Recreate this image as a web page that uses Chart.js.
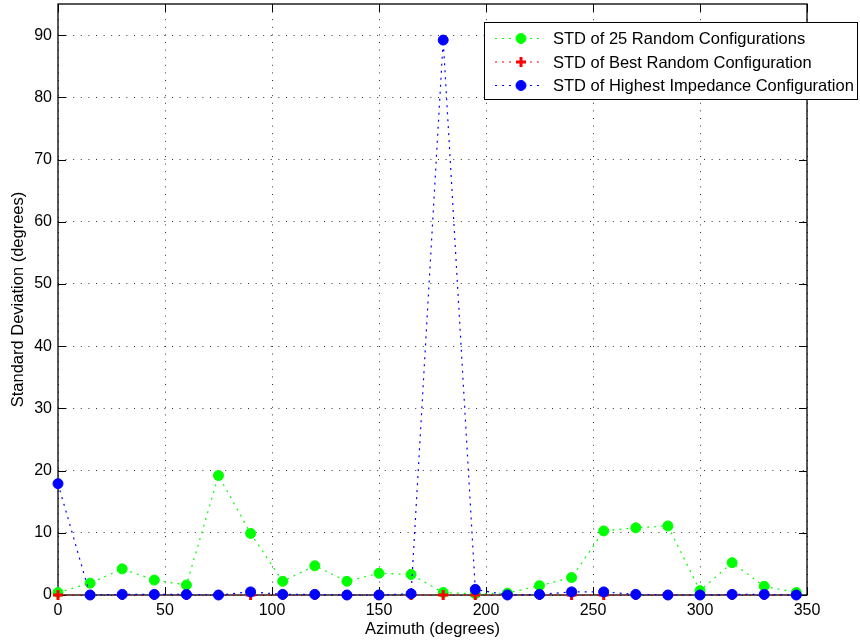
<!DOCTYPE html>
<html><head><meta charset="utf-8">
<script src="https://cdn.jsdelivr.net/npm/chart.js@4"></script>
<style>html,body{margin:0;padding:0;background:#fff;}#wrap{width:860px;height:641px;position:relative;}</style>
</head><body><div id="wrap"><canvas id="c" width="860" height="641"></canvas></div>
<script>
const azimuth = [0,15,30,45,60,75,90,105,120,135,150,165,180,195,210,225,240,255,270,285,300,315,330,345];
const stdRandom25 = [0.4,1.9,4.2,2.4,1.6,19.2,9.9,2.2,4.7,2.2,3.5,3.3,0.4,0.2,0.3,1.5,2.8,10.3,10.8,11.1,0.7,5.2,1.4,0.4];
const stdBestRandom = [0,0,0,0,0,0,0,0,0,0,0,0,0,0,0,0,0,0,0,0,0,0,0,0];
const stdHighestImpedance = [17.9,0,0.1,0.1,0.1,0,0.5,0.1,0.1,0,0,0.2,89.2,0.9,0,0.1,0.5,0.5,0.1,0,0,0.1,0.1,0];
const xTicks = [0,50,100,150,200,250,300,350];
const yTicks = [0,10,20,30,40,50,60,70,80,90];
const seriesLabels = ['STD of 25 Random Configurations','STD of Best Random Configuration','STD of Highest Impedance Configuration'];
const seriesColors = ['#00ff00','#ff0000','#0000ff'];
const seriesStyles = ['circle','cross','circle'];

const FONT = '"Liberation Sans", Arial, Helvetica, sans-serif';

function pts(vals){ return azimuth.map((a,i)=>({x:a,y:vals[i]})); }
function ds(i, vals, order){
  const isCross = seriesStyles[i]==='cross';
  return {
    label: seriesLabels[i], data: pts(vals), order: order,
    borderColor: seriesColors[i], borderWidth: 1.2, borderDash: [2,5],
    backgroundColor: seriesColors[i],
    pointStyle: seriesStyles[i], pointRadius: 5, pointHoverRadius: 5,
    pointBackgroundColor: seriesColors[i], pointBorderColor: seriesColors[i],
    pointBorderWidth: isCross ? 3 : 1,
    tension: 0, fill: false, clip: false
  };
}

const framePlugin = {
  id: 'frame',
  beforeDatasetsDraw(chart){
    const {ctx, chartArea:a, scales} = chart;
    ctx.save();
    ctx.strokeStyle = '#000'; ctx.lineWidth = 1.3; ctx.setLineDash([]);
    ctx.strokeRect(a.left, a.top, a.right-a.left, a.bottom-a.top);
    ctx.lineWidth = 1;
    const L = 8;
    ctx.beginPath();
    xTicks.forEach(v=>{ const x = Math.round(scales.x.getPixelForValue(v))+0.5;
      ctx.moveTo(x,a.bottom); ctx.lineTo(x,a.bottom-L); ctx.moveTo(x,a.top); ctx.lineTo(x,a.top+L); });
    yTicks.forEach(v=>{ const y = Math.round(scales.y.getPixelForValue(v))+0.5;
      ctx.moveTo(a.left,y); ctx.lineTo(a.left+L,y); ctx.moveTo(a.right,y); ctx.lineTo(a.right-L,y); });
    ctx.stroke();
    ctx.restore();
  }
};

const legendPlugin = {
  id: 'mlegend',
  afterDraw(chart){
    const ctx = chart.ctx;
    ctx.save();
    const bx=484.5, by=22.5, bw=373, bh=77;
    ctx.fillStyle='#fff'; ctx.fillRect(bx,by,bw,bh);
    ctx.strokeStyle='#000'; ctx.lineWidth=1; ctx.setLineDash([]); ctx.strokeRect(bx,by,bw,bh);
    const rows=[38.5,62,85.5];
    rows.forEach((y,i)=>{
      ctx.strokeStyle=seriesColors[i]; ctx.lineWidth=1.2; ctx.setLineDash([2,5]);
      ctx.beginPath(); ctx.moveTo(495,y); ctx.lineTo(542,y); ctx.stroke();
      ctx.setLineDash([]);
      ctx.fillStyle=seriesColors[i]; ctx.strokeStyle=seriesColors[i];
      ctx.lineWidth = seriesStyles[i]==='cross'?3:1;
      Chart.helpers.drawPoint(ctx,{pointStyle:seriesStyles[i],radius:5,rotation:0,borderWidth:ctx.lineWidth},521,y);
      ctx.fillStyle='#000'; ctx.font='16.5px '+FONT; ctx.textBaseline='middle'; ctx.textAlign='left';
      ctx.fillText(seriesLabels[i],553,y+1);
    });
    ctx.restore();
  }
};

new Chart(document.getElementById('c'), {
  type: 'line',
  data: { datasets: [ ds(0,stdRandom25,3), ds(1,stdBestRandom,2), ds(2,stdHighestImpedance,1) ] },
  options: {
    responsive:false, animation:false, devicePixelRatio:1,
    layout:{ autoPadding:false, padding:{ left:0, top:4, right:53, bottom:0 } },
    plugins:{ legend:{display:false}, tooltip:{enabled:false} },
    scales:{
      x:{ type:'linear', min:0, max:350,
        afterBuildTicks(s){ s.ticks = xTicks.map(v=>({value:v})); },
        afterFit(s){ s.height = 46; s.paddingLeft = 0; s.paddingRight = 0; },
        ticks:{ color:'#000', font:{family:FONT,size:16}, padding:6, maxRotation:0 },
        grid:{ color:'rgba(0,0,0,0.8)', lineWidth:1, drawTicks:false },
        border:{ display:false, dash:[1,6.6] },
        title:{ display:true, text:'Azimuth (degrees)', color:'#000', font:{family:FONT,size:16.5}, padding:{top:0,bottom:2} }
      },
      y:{ type:'linear', min:0, max:95,
        afterBuildTicks(s){ s.ticks = yTicks.map(v=>({value:v})); },
        afterFit(s){ s.width = 58; s.paddingTop = 0; s.paddingBottom = 0; },
        ticks:{ color:'#000', font:{family:FONT,size:16}, padding:6 },
        grid:{ color:'rgba(0,0,0,0.8)', lineWidth:1, drawTicks:false },
        border:{ display:false, dash:[1,6.6] },
        title:{ display:true, text:'Standard Deviation (degrees)', color:'#000', font:{family:FONT,size:16.5}, padding:{top:9,bottom:0} }
      }
    }
  },
  plugins:[framePlugin, legendPlugin]
});
</script></body></html>
